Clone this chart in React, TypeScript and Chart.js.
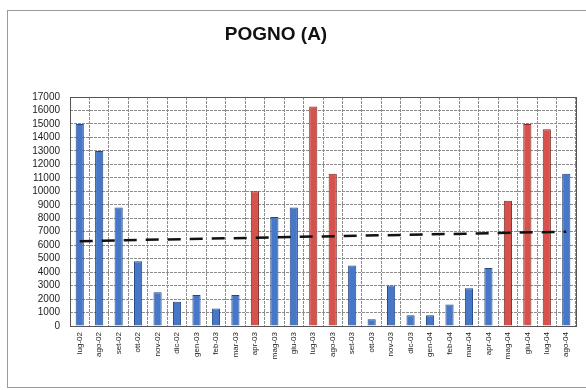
import React, { useEffect, useRef } from "react";
import { Chart, registerables } from "chart.js";

Chart.register(...registerables);

const categories = [
  "lug-02", "ago-02", "set-02", "ott-02", "nov-02", "dic-02", "gen-03", "feb-03", "mar-03",
  "apr-03", "mag-03", "giu-03", "lug-03", "ago-03", "set-03", "ott-03", "nov-03", "dic-03",
  "gen-04", "feb-04", "mar-04", "apr-04", "mag-04", "giu-04", "lug-04", "ago-04",
];

const values = [
  15000, 13000, 8800, 4800, 2500, 1800, 2300, 1300, 2300,
  10000, 8100, 8800, 16300, 11300, 4500, 500, 3000, 800,
  800, 1600, 2800, 4300, 9300, 15000, 14600, 11300,
];

// true = red (highlighted) months
const highlighted = [
  false, false, false, false, false, false, false, false, false,
  true, false, false, true, true, false, false, false, false,
  false, false, false, false, true, true, true, false,
];

// linear trend: start and end values
const trendStart = 6300;
const trendEnd = 7000;

const titleText = "POGNO (A)";
const yMax = 17000;
const yStep = 1000;

const BLUE = "#4677c9";
const BLUE_EDGE = "#25467f";
const RED = "#d6524d";
const RED_EDGE = "#7f2a27";

export default function App() {
  const ref = useRef<HTMLCanvasElement | null>(null);

  useEffect(() => {
    if (!ref.current) return;
    const trend = categories.map((_, i) =>
      i === 0 ? trendStart : i === categories.length - 1 ? trendEnd : null
    );

    const framePlugin = {
      id: "frame",
      beforeDraw(chart: any) {
        const { ctx, width, height } = chart;
        ctx.save();
        ctx.fillStyle = "#ffffff";
        ctx.fillRect(0, 0, width, height);
        ctx.strokeStyle = "#9a9a9a";
        ctx.lineWidth = 1;
        ctx.strokeRect(7.5, 10.5, width - 7, height - 13);
        ctx.restore();
      },
      beforeDatasetsDraw(chart: any) {
        const { ctx, chartArea } = chart;
        ctx.save();
        ctx.strokeStyle = "#555555";
        ctx.lineWidth = 1;
        ctx.strokeRect(
          Math.round(chartArea.left) + 0.5,
          Math.round(chartArea.top) + 0.5,
          Math.round(chartArea.right - chartArea.left),
          Math.round(chartArea.bottom - chartArea.top)
        );
        ctx.restore();
      },
      afterDraw(chart: any) {
        const { ctx } = chart;
        ctx.save();
        ctx.fillStyle = "#111111";
        ctx.font = "bold 19px 'Liberation Sans', Arial, sans-serif";
        ctx.textAlign = "center";
        ctx.textBaseline = "alphabetic";
        ctx.fillText(titleText, 276, 40);
        ctx.restore();
      },
    };

    const chart = new Chart(ref.current, {
      type: "bar",
      data: {
        labels: categories,
        datasets: [
          {
            type: "line" as const,
            label: "trend",
            data: trend as any,
            spanGaps: true,
            borderColor: "#111111",
            borderWidth: 2.5,
            borderDash: [13, 9],
            pointRadius: 0,
            fill: false,
            order: 0,
          },
          {
            type: "bar" as const,
            label: "POGNO (A)",
            data: values,
            backgroundColor: highlighted.map((h) => (h ? RED : BLUE)),
            borderColor: highlighted.map((h) => (h ? RED_EDGE : BLUE_EDGE)),
            borderWidth: 1,
            categoryPercentage: 1,
            barPercentage: 0.42,
            order: 1,
          },
        ],
      },
      options: {
        animation: false,
        responsive: true,
        maintainAspectRatio: false,
        layout: { padding: { top: 97, right: 10, left: 0, bottom: 0 } },
        plugins: {
          legend: { display: false },
          title: { display: false },
          tooltip: { enabled: false },
        },
        scales: {
          x: {
            offset: true,
            grid: { offset: true, color: "#8c8c8c", drawTicks: false },
            border: { display: false, dash: [3, 1] },
            ticks: {
              color: "#222222",
              font: { family: "'Liberation Sans', Arial, sans-serif", size: 8 },
              minRotation: 90,
              maxRotation: 90,
              autoSkip: false,
              padding: 6,
            },
            afterFit(scale: any) {
              scale.height = 64;
            },
          },
          y: {
            min: 0,
            max: yMax,
            grid: { color: "#8c8c8c", drawTicks: false },
            border: { display: false, dash: [3, 1] },
            ticks: {
              stepSize: yStep,
              autoSkip: false,
              color: "#222222",
              font: { family: "'Liberation Sans', Arial, sans-serif", size: 10 },
              padding: 10,
              callback: (v: any) => String(v),
            },
            afterFit(scale: any) {
              scale.width = 70;
            },
          },
        },
      },
      plugins: [framePlugin],
    });
    return () => chart.destroy();
  }, []);

  return (
    <div style={{ position: "fixed", left: 0, top: 0, width: 586, height: 390, background: "#fff" }}>
      <canvas ref={ref} />
    </div>
  );
}
